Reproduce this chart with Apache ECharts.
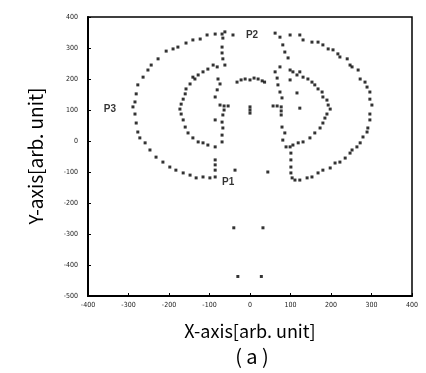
<!DOCTYPE html>
<html><head><meta charset="utf-8">
<script src="https://cdn.jsdelivr.net/npm/echarts@6/dist/echarts.min.js"></script>
<style>html,body{margin:0;padding:0;background:#fff}#c{width:426px;height:373px}</style>
</head><body><div id="c"></div>
<script>
const xTicks = [-400,-300,-200,-100,0,100,200,300,400];
const yTicks = [-500,-400,-300,-200,-100,0,100,200,300,400];

const outerRing = [
 [-62,352],[-69,345],[-86,345],[-106,342],[-123,329],[-141,326],[-158,316],[-178,303],[-190,297],[-207,290],
 [-227,265],[-244,245],[-252,229],[-264,206],[-277,181],[-281,152],[-284,126],[-289,110],[-284,87],[-281,58],
 [-277,29],[-272,10],[-259,-6],[-247,-29],[-232,-52],[-215,-68],[-198,-84],[-183,-94],[-165,-103],[-148,-110],
 [-133,-119],[-116,-116],[-99,-119],
 [99,342],[123,342],[131,326],[153,319],[168,319],[180,310],[193,297],[205,294],[217,281],[222,271],
 [240,265],[247,245],[252,239],[267,229],[272,200],[284,190],[289,174],[296,158],[296,135],[301,116],
 [296,87],[296,68],[291,42],[289,29],[279,13],[272,-6],[264,-19],[252,-29],[247,-39],[235,-55],
 [222,-68],[210,-71],[198,-87],[180,-94],[168,-103],[153,-116],[141,-119],[123,-126],[111,-126],[104,-119]
];
const innerRingLeft = [
 [-141,206],[-128,213],[-116,223],[-104,232],[-91,245],[-81,239],[-136,200],[-148,184],[-158,168],[-160,152],
 [-165,135],[-170,119],[-173,103],[-170,87],[-165,68],[-160,45],[-153,26],[-141,10],[-128,-3],[-116,-6],
 [-104,-13],[-86,-19]
];
const innerRingRight = [
 [99,229],[106,223],[123,223],[131,206],[143,200],[153,190],[160,181],[168,168],[178,158],[180,142],
 [190,132],[193,116],[198,103],[190,87],[185,74],[180,58],[173,42],[160,26],[148,10],[131,-3],
 [119,-6],[106,-13],[99,-19]
];
const leftStructure = [
 [-42,342],[-67,332],[-69,303],[-69,284],[-67,265],[-62,245],[-79,200],[-74,184],[-81,165],[-86,142],
 [-74,116],[-64,113],[-54,113],[-64,100],[-67,84],[-86,68],[-69,61],[-67,42],[-69,19],[-69,-3],
 [-86,-61],[-86,-77],[-86,-94],[-86,-116]
];
const rightStructure = [
 [62,348],[74,335],[81,310],[86,287],[94,268],[74,239],[62,223],[67,203],[69,181],[74,158],[79,139],
 [57,113],[67,113],[77,110],[77,97],[77,84],[79,45],[86,26],[81,3],[89,-19],[101,-39],[101,-61],
 [101,-84],[101,-103],[116,213],[99,197],[116,155],[123,106]
];
const centerMarks = [
 [-32,190],[-22,197],[-12,200],[0,197],[10,203],[20,200],[30,194],[36,190],[0,110],[0,100],[0,90]
];
const isolatedDots = [
 [-37,-94],[44,-100],[-40,-280],[32,-280],[-30,-437],[28,-437]
];
const labelNames = ['P1','P2','P3'];
const labelPos = [[-54,-132],[5,342],[-346,103]];

const chart = echarts.init(document.getElementById('c'));
const dotStyle = {color:'#000'};
function dots(d){return {type:'scatter',data:d,symbol:'rect',symbolSize:[3,3],itemStyle:dotStyle,silent:true};}
chart.setOption({
 animation:false,
 backgroundColor:'#fff',
 grid:{left:88,right:14,top:17,bottom:77,show:true,borderColor:'#000',borderWidth:1.5},
 xAxis:{type:'value',min:-400,max:400,interval:100,
  axisLine:{show:true,onZero:false,lineStyle:{color:'#000',width:2}},
  axisTick:{show:true,inside:true,length:3,lineStyle:{color:'#000'}},
  splitLine:{show:false},
  axisLabel:{fontSize:7,color:'#222',margin:6,fontFamily:'DejaVu Sans Condensed'}},
 yAxis:{type:'value',min:-500,max:400,interval:100,
  axisLine:{show:true,onZero:false,lineStyle:{color:'#000',width:2}},
  axisTick:{show:true,inside:true,length:3,lineStyle:{color:'#000'}},
  splitLine:{show:false},
  axisLabel:{fontSize:7,color:'#222',margin:10,fontFamily:'DejaVu Sans Condensed'}},
 graphic:[
  {type:'text',x:250,y:331,style:{text:'X-axis[arb. unit]',x:0,y:0,textAlign:'center',textVerticalAlign:'middle',font:'18px "Noto Sans CJK JP"',fill:'#000'}},
  {type:'text',x:252,y:356,style:{text:'( a )',x:0,y:0,textAlign:'center',textVerticalAlign:'middle',font:'20px "Noto Sans CJK JP"',fill:'#000'}},
  {type:'text',x:36,y:156,rotation:Math.PI/2,style:{text:'Y-axis[arb. unit]',x:0,y:0,textAlign:'center',textVerticalAlign:'middle',font:'19px "Noto Sans CJK JP"',fill:'#000'}}
 ],
 series:[
  dots(outerRing),dots(innerRingLeft),dots(innerRingRight),dots(leftStructure),dots(rightStructure),
  dots(centerMarks),dots(isolatedDots),
  {type:'scatter',data:labelPos.map((p,i)=>({value:p,name:labelNames[i]})),symbolSize:0,silent:true,
   label:{show:true,position:'inside',formatter:'{b}',fontSize:10,fontWeight:'bold',color:'#000',fontFamily:'Liberation Sans'}}
 ]
});
</script></body></html>
